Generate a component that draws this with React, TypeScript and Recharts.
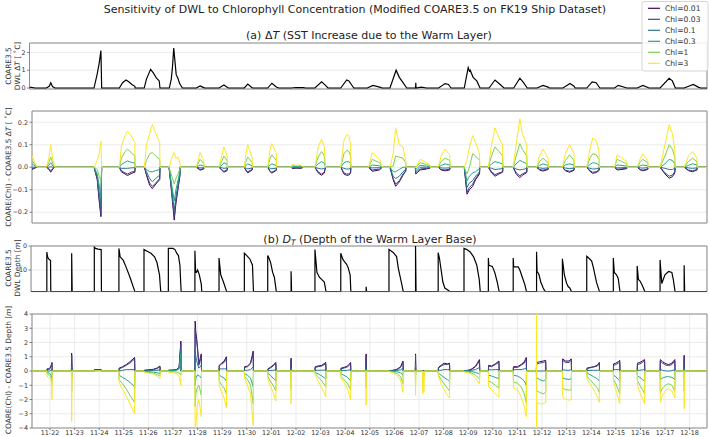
import React from 'react';
import { LineChart, Line, XAxis, YAxis, CartesianGrid, ReferenceArea } from 'recharts';

// ---------- labels ----------
const dateLabels = [
  '11-22', '11-23', '11-24', '11-25', '11-26', '11-27', '11-28', '11-29', '11-30',
  '12-01', '12-02', '12-03', '12-04', '12-05', '12-06', '12-07', '12-08', '12-09',
  '12-10', '12-11', '12-12', '12-13', '12-14', '12-15', '12-16', '12-17', '12-18',
];
const chlLabels = ['Chl=0.01', 'Chl=0.03', 'Chl=0.1', 'Chl=0.3', 'Chl=1', 'Chl=3'];
const chlColors = ['#440154', '#414487', '#2a788e', '#22a884', '#7ad151', '#fde725'];

// ---------- (a) COARE3.5 DWL dT  (time in days after 11-22 00:00) ----------
const tSST = [
  -0.83, -0.6,
  -0.15, -0.03, 0.03, 0.1, 0.2,
  1.79, 1.92, 2.0, 2.07, 2.1,
  2.82, 2.95, 3.09, 3.2, 3.33, 3.45, 3.46,
  3.83, 3.92, 4.09, 4.2, 4.33, 4.44, 4.47,
  4.85, 4.93, 4.98, 5.03, 5.08, 5.13, 5.2, 5.27, 5.38,
  5.95, 6.1, 6.25, 6.3,
  6.87, 7.07, 7.2, 7.25,
  7.9, 8.04, 8.2, 8.25,
  8.85, 9.02, 9.2, 9.3,
  9.8, 10.0, 10.3, 10.4,
  10.77, 11.04, 11.2, 11.3,
  11.82, 12.06, 12.15, 12.3, 12.35,
  12.9, 13.13, 13.4, 13.5,
  13.82, 14.07, 14.2, 14.35, 14.5,
  14.86, 14.87, 14.88, 15.1, 15.3,
  15.8, 16.06, 16.2, 16.3,
  16.84, 17.0, 17.05, 17.08, 17.2, 17.35, 17.48,
  17.85, 18.09, 18.3, 18.45,
  18.85, 19.1, 19.25, 19.4,
  19.8, 20.04, 20.25, 20.3,
  20.85, 21.14, 21.3, 21.35,
  21.82, 22.04, 22.2, 22.35,
  22.95, 23.1, 23.45,
  23.87, 24.1, 24.35,
  24.8, 25.17, 25.3, 25.42,
  25.78, 26.15, 26.35, 26.45,
  26.71,
];
const dtSST = [
  0.05, 0,
  0, 0.1, 0.3, 0.08, 0,
  0, 0.8, 1.4, 2.1, 0,
  0, 0.3, 0.45, 0.35, 0.2, 0.1, 0,
  0, 0.5, 1.05, 0.85, 0.55, 0.4, 0,
  0, 0.5, 1.2, 2.25, 1.5, 0.75, 0.55, 0.25, 0,
  0, 0.12, 0.02, 0,
  0, 0.17, 0.05, 0,
  0, 0.22, 0.03, 0,
  0, 0.27, 0.06, 0,
  0, 0.03, 0.02, 0,
  0, 0.35, 0.15, 0,
  0, 0.45, 0.4, 0.1, 0,
  0, 0.15, 0.05, 0,
  0, 1.0, 0.6, 0.3, 0,
  0, 0.3, 0, 0.05, 0,
  0, 0.25, 0.2, 0,
  0, 1.15, 0.95, 1.0, 0.6, 0.4, 0,
  0, 0.45, 0.2, 0,
  0, 0.55, 0.3, 0,
  0, 0.15, 0.05, 0,
  0, 0.25, 0.1, 0,
  0, 0.35, 0.3, 0,
  0, 0.15, 0,
  0, 0.15, 0,
  0, 0.55, 0.4, 0,
  0, 0.2, 0.05, 0,
  0,
];

// ---------- (a) COARE(Chl) - COARE3.5 dT ----------
const tDiffT = [
  -0.73, -0.6, -0.52,
  -0.15, -0.05, 0.03, 0.12, 0.2,
  1.79, 1.92, 2.0, 2.07, 2.1,
  2.82, 2.9, 3.05, 3.15, 3.3, 3.45, 3.46,
  3.84, 3.92, 4.05, 4.16, 4.3, 4.46, 4.47,
  4.84, 4.95, 5.05, 5.12, 5.2, 5.28, 5.29,
  5.95, 6.1, 6.25, 6.26,
  6.87, 7.0, 7.07, 7.2, 7.21,
  7.9, 7.98, 8.04, 8.22, 8.23,
  8.85, 8.95, 9.02, 9.2, 9.21,
  9.8, 9.85, 10.0, 10.2, 10.3,
  10.77, 10.9, 11.04, 11.15, 11.2,
  11.82, 11.95, 12.06, 12.15, 12.22, 12.23,
  12.95, 13.1, 13.4, 13.5,
  13.82, 13.95, 14.05, 14.2, 14.35, 14.46, 14.47,
  14.85, 14.87, 15.05, 15.3, 15.45, 15.46,
  15.78, 15.9, 16.06, 16.25, 16.26,
  16.84, 16.95, 17.05, 17.18, 17.3, 17.46, 17.47,
  17.82, 17.95, 18.09, 18.25, 18.4, 18.41,
  18.83, 18.95, 19.1, 19.2, 19.38, 19.39,
  19.78, 19.9, 20.04, 20.25, 20.26,
  20.83, 20.95, 21.12, 21.3, 21.31,
  21.82, 21.95, 22.06, 22.2, 22.32, 22.33,
  22.95, 23.05, 23.25, 23.45, 23.46,
  23.87, 24.0, 24.1, 24.3, 24.31,
  24.8, 25.0, 25.17, 25.3, 25.4, 25.41,
  25.78, 25.95, 26.12, 26.3, 26.31,
  26.71,
];
const dT001 = [
  -0.01, -0.003, 0,
  0, -0.008, -0.022, -0.007, 0,
  0, -0.055, -0.15, -0.22, 0,
  0, -0.02, -0.03, -0.037, -0.028, -0.022, 0,
  0, -0.035, -0.08, -0.095, -0.075, -0.055, 0,
  0, -0.12, -0.235, -0.16, -0.1, -0.04, 0,
  0, -0.013, -0.008, 0,
  0, -0.015, -0.022, -0.015, 0,
  0, -0.018, -0.025, -0.012, 0,
  0, -0.02, -0.026, -0.014, 0,
  0, -0.006, -0.004, -0.005, 0,
  0, -0.025, -0.036, -0.026, 0,
  0, -0.03, -0.036, -0.035, -0.026, 0,
  0, -0.018, -0.012, 0,
  0, -0.055, -0.085, -0.065, -0.035, -0.018, 0,
  0, -0.03, -0.012, -0.008, -0.004, 0,
  0, -0.012, -0.016, -0.012, 0,
  0, -0.12, -0.1, -0.085, -0.055, -0.03, 0,
  0, -0.025, -0.04, -0.03, -0.022, 0,
  0, -0.03, -0.046, -0.036, -0.024, 0,
  0, -0.012, -0.017, -0.01, 0,
  0, -0.016, -0.022, -0.014, 0,
  0, -0.018, -0.027, -0.024, -0.015, 0,
  0, -0.012, -0.01, -0.006, 0,
  0, -0.012, -0.016, -0.01, 0,
  0, -0.03, -0.049, -0.042, -0.025, 0,
  0, -0.015, -0.02, -0.012, 0,
  0,
];
const dT003 = [
  -0.007, -0.002, 0,
  0, -0.006, -0.015, -0.005, 0,
  0, -0.05, -0.14, -0.21, 0,
  0, -0.015, -0.025, -0.03, -0.022, -0.018, 0,
  0, -0.03, -0.07, -0.085, -0.07, -0.05, 0,
  0, -0.11, -0.22, -0.15, -0.09, -0.035, 0,
  0, -0.01, -0.006, 0,
  0, -0.012, -0.018, -0.012, 0,
  0, -0.015, -0.02, -0.01, 0,
  0, -0.018, -0.022, -0.012, 0,
  0, -0.004, -0.003, -0.004, 0,
  0, -0.02, -0.03, -0.022, 0,
  0, -0.025, -0.03, -0.03, -0.022, 0,
  0, -0.012, -0.008, 0,
  0, -0.05, -0.075, -0.06, -0.03, -0.015, 0,
  0, -0.03, -0.008, -0.005, -0.003, 0,
  0, -0.01, -0.012, -0.009, 0,
  0, -0.11, -0.09, -0.075, -0.05, -0.025, 0,
  0, -0.02, -0.033, -0.025, -0.02, 0,
  0, -0.025, -0.038, -0.03, -0.02, 0,
  0, -0.01, -0.013, -0.008, 0,
  0, -0.013, -0.018, -0.012, 0,
  0, -0.015, -0.022, -0.02, -0.012, 0,
  0, -0.009, -0.007, -0.004, 0,
  0, -0.01, -0.013, -0.008, 0,
  0, -0.025, -0.04, -0.035, -0.02, 0,
  0, -0.012, -0.016, -0.01, 0,
  0,
];
const dT01 = [
  0, 0, 0,
  0, 0, 0.002, 0, 0,
  0, -0.04, -0.11, -0.17, 0,
  0, -0.005, -0.005, -0.005, -0.003, -0.002, 0,
  0, -0.02, -0.05, -0.065, -0.05, -0.035, 0,
  0, -0.1, -0.19, -0.13, -0.08, -0.03, 0,
  0, -0.003, -0.002, 0,
  0, -0.003, -0.005, -0.003, 0,
  0, -0.005, -0.007, -0.004, 0,
  0, -0.005, -0.007, -0.004, 0,
  0, 0, 0, 0, 0,
  0, -0.005, -0.008, -0.005, 0,
  0, -0.005, -0.008, -0.008, -0.005, 0,
  0, -0.003, -0.002, 0,
  0, -0.04, -0.05, -0.04, -0.02, -0.01, 0,
  0, -0.02, 0, 0, 0, 0,
  0, -0.003, -0.004, -0.003, 0,
  0, -0.09, -0.07, -0.06, -0.04, -0.02, 0,
  0, -0.005, -0.01, -0.008, -0.006, 0,
  0, -0.008, -0.012, -0.01, -0.006, 0,
  0, -0.003, -0.005, -0.003, 0,
  0, -0.004, -0.006, -0.004, 0,
  0, -0.005, -0.008, -0.007, -0.004, 0,
  0, -0.003, -0.002, -0.001, 0,
  0, -0.003, -0.004, -0.002, 0,
  0, -0.005, -0.01, -0.01, -0.005, 0,
  0, -0.003, -0.005, -0.003, 0,
  0,
];
const dT03 = [
  0.015, 0.005, 0,
  0, 0.008, 0.02, 0.005, 0,
  0, -0.03, -0.08, -0.13, 0,
  0, 0.012, 0.022, 0.028, 0.022, 0.018, 0,
  0, -0.01, -0.02, -0.02, -0.015, -0.01, 0,
  0, -0.08, -0.15, -0.1, -0.06, -0.02, 0,
  0, 0.01, 0.005, 0,
  0, 0.01, 0.02, 0.012, 0,
  0, 0.01, 0.015, 0.006, 0,
  0, 0.01, 0.015, 0.008, 0,
  0, 0.004, 0.003, 0.003, 0,
  0, 0.015, 0.025, 0.018, 0,
  0, 0.02, 0.025, 0.024, 0.017, 0,
  0, 0.01, 0.006, 0,
  0, -0.02, -0.02, -0.01, 0, 0, 0,
  0, -0.01, 0.008, 0.005, 0.003, 0,
  0, 0.008, 0.015, 0.01, 0,
  0, -0.06, -0.04, -0.025, -0.02, -0.005, 0,
  0, 0.015, 0.025, 0.02, 0.015, 0,
  0, 0.015, 0.03, 0.025, 0.015, 0,
  0, 0.008, 0.015, 0.008, 0,
  0, 0.01, 0.015, 0.01, 0,
  0, 0.012, 0.02, 0.018, 0.01, 0,
  0, 0.01, 0.008, 0.005, 0,
  0, 0.007, 0.01, 0.006, 0,
  0, 0.015, 0.035, 0.03, 0.015, 0,
  0, 0.008, 0.015, 0.01, 0,
  0,
];
const dT1 = [
  0.03, 0.01, 0,
  0, 0.02, 0.045, 0.015, 0,
  0, -0.01, -0.04, -0.06, 0,
  0, 0.04, 0.07, 0.08, 0.065, 0.05, 0,
  0, 0.03, 0.06, 0.065, 0.05, 0.035, 0,
  0, -0.04, -0.075, -0.05, -0.03, -0.01, 0,
  0, 0.035, 0.015, 0,
  0, 0.03, 0.05, 0.03, 0,
  0, 0.03, 0.045, 0.02, 0,
  0, 0.04, 0.055, 0.03, 0,
  0, 0.008, 0.006, 0.007, 0,
  0, 0.045, 0.07, 0.05, 0,
  0, 0.06, 0.075, 0.07, 0.05, 0,
  0, 0.035, 0.02, 0,
  0, 0.005, 0.05, 0.045, 0.04, 0.02, 0,
  0, 0, 0.02, 0.012, 0.006, 0,
  0, 0.025, 0.04, 0.03, 0,
  0, -0.03, 0, 0.06, 0.05, 0.03, 0,
  0, 0.05, 0.09, 0.07, 0.05, 0,
  0, 0.05, 0.105, 0.08, 0.05, 0,
  0, 0.025, 0.04, 0.02, 0,
  0, 0.03, 0.055, 0.03, 0,
  0, 0.04, 0.06, 0.055, 0.035, 0,
  0, 0.035, 0.025, 0.015, 0,
  0, 0.025, 0.035, 0.02, 0,
  0, 0.05, 0.1, 0.08, 0.045, 0,
  0, 0.025, 0.04, 0.025, 0,
  0,
];
const dT3 = [
  0.05, 0.015, 0,
  0, 0.04, 0.1, 0.03, 0,
  0, 0.03, 0.06, 0.115, 0,
  0, 0.09, 0.14, 0.16, 0.14, 0.11, 0,
  0, 0.1, 0.15, 0.19, 0.15, 0.11, 0,
  0, 0.04, 0.065, 0.04, 0.045, 0.02, 0,
  0, 0.065, 0.03, 0,
  0, 0.06, 0.09, 0.05, 0,
  0, 0.07, 0.1, 0.04, 0,
  0, 0.08, 0.105, 0.06, 0,
  0, 0.012, 0.008, 0.01, 0,
  0, 0.09, 0.125, 0.09, 0,
  0, 0.12, 0.145, 0.14, 0.1, 0,
  0, 0.065, 0.035, 0,
  0, 0.06, 0.175, 0.1, 0.09, 0.03, 0,
  0, 0, 0.035, 0.02, 0.01, 0,
  0, 0.05, 0.08, 0.055, 0,
  0, 0.03, 0.09, 0.14, 0.11, 0.06, 0,
  0, 0.1, 0.175, 0.13, 0.1, 0,
  0, 0.1, 0.215, 0.15, 0.1, 0,
  0, 0.05, 0.08, 0.04, 0,
  0, 0.06, 0.1, 0.06, 0,
  0, 0.08, 0.13, 0.12, 0.07, 0,
  0, 0.055, 0.04, 0.025, 0,
  0, 0.04, 0.06, 0.03, 0,
  0, 0.1, 0.19, 0.15, 0.08, 0,
  0, 0.05, 0.07, 0.04, 0,
  0,
];

// ---------- (b) COARE3.5 DWL depth [m] ----------
const tDepth = [
  -0.83,
  -0.13, -0.13, -0.1, -0.05, 0.02, 0.03,
  0.88, 0.88, 0.9,
  1.8, 1.8, 1.85, 1.95, 2.08, 2.09,
  2.8, 2.8, 2.85, 2.98, 3.1, 3.25, 3.45,
  3.82, 3.82, 3.95, 4.1, 4.25, 4.35, 4.45, 4.5,
  4.81, 4.81, 5.0, 5.08, 5.15, 5.22, 5.28, 5.33,
  5.89, 5.89, 5.92, 5.95, 6.0, 6.07, 6.15, 6.17,
  6.87, 6.87, 6.94, 7.05, 7.18,
  7.9, 7.9, 8.0, 8.13, 8.23, 8.27,
  8.85, 8.85, 8.9, 8.97, 9.05, 9.12, 9.2,
  9.8, 9.8, 9.82,
  10.77, 10.77, 10.8, 10.85, 10.95, 11.05, 11.15, 11.22,
  11.82, 11.82, 11.9, 11.97, 12.05, 12.12, 12.2, 12.23,
  12.85, 12.85, 12.87,
  13.78, 13.78, 13.96, 14.09, 14.16, 14.29, 14.36,
  14.86, 14.86, 14.88,
  15.78, 15.78, 15.83, 15.9, 15.97, 16.05, 16.2, 16.25,
  16.83, 16.83, 16.95, 17.08, 17.22, 17.35, 17.45, 17.49,
  17.82, 17.82, 17.84, 17.98, 18.08, 18.18, 18.26,
  18.83, 18.83, 18.85, 19.03, 19.1, 19.2, 19.3, 19.37,
  19.78, 19.78, 19.8, 19.88, 19.95, 20.05, 20.1, 20.15,
  20.83, 20.83, 20.91, 21.0, 21.07, 21.13, 21.2,
  21.82, 21.82, 21.89, 22.02, 22.09, 22.22, 22.34,
  22.9, 22.9, 22.94, 23.03, 23.1, 23.17,
  23.87, 23.87, 23.92, 23.98, 24.08, 24.18,
  24.8, 24.8, 24.87, 25.0, 25.15, 25.28, 25.34, 25.41,
  25.78, 25.78, 25.8,
  26.71,
];
const depthDWL = [
  19,
  19, 2.5, 4.5, 5.5, 6, 19,
  19, 3, 19,
  19, 0.5, 1, 1.3, 1.5, 19,
  19, 1, 4.5, 6, 9, 13, 19,
  19, 1.5, 2.2, 3, 4.5, 7, 12, 19,
  19, 1, 1, 1.5, 3, 4, 8, 19,
  19, 2, 11, 11, 10, 12, 16, 19,
  19, 5, 12, 15, 19,
  19, 3, 4, 5.5, 8, 19,
  19, 4, 5, 7, 11, 13, 19,
  19, 10.5, 19,
  19, 1.5, 5, 11, 13, 14, 15, 19,
  19, 3, 5.5, 6.5, 7.5, 9, 12, 19,
  19, 17, 19,
  19, 1.4, 2.8, 4.4, 9.3, 15.5, 19,
  19, 0, 19,
  19, 2.8, 5, 10, 15, 17.5, 18.5, 19,
  19, 1, 1.5, 2.5, 4.5, 8, 14, 19,
  19, 5, 8, 8.5, 11, 15, 19,
  19, 5, 8.7, 8.7, 10, 13, 16, 19,
  19, 2.4, 10.5, 12, 15, 17.5, 18.5, 19,
  19, 5.3, 12, 15.5, 17, 17.5, 19,
  19, 4.3, 4.9, 6.3, 9, 15.3, 19,
  19, 5, 11, 12, 13.5, 19,
  19, 8.3, 13.9, 14.5, 16.5, 19,
  19, 5.8, 15.6, 12, 10.6, 11, 14, 19,
  19, 8, 19,
  19,
];

// ---------- (b) COARE(Chl) - COARE3.5 depth [m] ----------
const tDiffD = [
  -0.73,
  -0.13, -0.12, -0.02, 0.05, 0.08, 0.09,
  0.87, 0.88, 0.9,
  1.8, 1.81, 2.08, 2.09,
  2.8, 2.81, 2.95, 3.1, 3.25, 3.44, 3.45,
  3.82, 3.83, 4.0, 4.2, 4.35, 4.47, 4.48,
  4.81, 4.82, 5.0, 5.15, 5.25, 5.32, 5.33,
  5.89, 5.9, 5.93, 5.98, 6.05, 6.15, 6.16,
  6.87, 6.88, 6.98, 7.08, 7.17, 7.18,
  7.9, 7.91, 8.03, 8.15, 8.26, 8.27,
  8.85, 8.86, 8.95, 9.07, 9.18, 9.19,
  9.79, 9.8, 9.81,
  10.77, 10.78, 10.9, 11.05, 11.21, 11.22,
  11.82, 11.83, 11.95, 12.1, 12.22, 12.23,
  12.84, 12.85, 12.86,
  13.78, 13.79, 13.95, 14.1, 14.25, 14.35, 14.36,
  14.85, 14.86, 14.87,
  15.14, 15.15, 15.17, 15.2, 15.22,
  15.78, 15.79, 15.9, 16.02, 16.15, 16.24, 16.25,
  16.83, 16.84, 17.0, 17.15, 17.3, 17.46, 17.47,
  17.82, 17.83, 17.95, 18.1, 18.25, 18.26,
  18.83, 18.84, 19.0, 19.15, 19.28, 19.36, 19.37,
  19.77, 19.78, 19.785, 19.8, 19.9, 20.05, 20.15, 20.16,
  20.83, 20.84, 20.95, 21.1, 21.19, 21.2,
  21.82, 21.83, 21.95, 22.1, 22.25, 22.33, 22.34,
  22.9, 22.91, 23.0, 23.1, 23.16, 23.17,
  23.87, 23.88, 23.98, 24.08, 24.17, 24.18,
  24.8, 24.81, 24.9, 25.05, 25.15, 25.28, 25.4, 25.41,
  25.77, 25.78, 25.79,
  26.71,
];
const dD001 = [
  0,
  0, 0.15, 0.15, 0.4, 0.6, 0,
  0, 1.25, 0,
  0, 0.1, 0.1, 0,
  0, 0.2, 0.3, 0.45, 0.65, 0.95, 0,
  0, 0.05, 0.08, 0.12, 0.2, 0.35, 0,
  0, 0.05, 0.06, 0.1, 0.3, 2.1, 0,
  0, 3.5, 2.7, 2.0, 0.5, 1.2, 0,
  0, 0.4, 0.55, 0.7, 1.0, 0,
  0, 0.3, 0.35, 0.55, 1.4, 0,
  0, 0.15, 0.25, 0.4, 0.6, 0,
  0, 0.9, 0,
  0, 0.3, 0.35, 0.4, 0.6, 0,
  0, 0.2, 0.25, 0.35, 0.6, 0,
  0, 1.2, 0,
  0, 0.02, 0.05, 0.12, 0.3, 0.7, 0,
  0, 1.2, 0,
  0, 0.05, 0, 0.05, 0,
  0, 0.25, 0.4, 0.55, 0.5, 0.55, 0,
  0, 0.02, 0.05, 0.15, 0.35, 0.8, 0,
  0, 0.4, 0.35, 0.5, 0.7, 0,
  0, 0.3, 0.3, 0.45, 0.65, 0.95, 0,
  0, 0.6, 0.6, 0.6, 0.65, 0.7, 0.75, 0,
  0, 0.85, 0.7, 0.7, 0.85, 0,
  0, 0.2, 0.25, 0.3, 0.4, 0.6, 0,
  0, 0.5, 0.55, 0.65, 0.75, 0,
  0, 0.55, 0.6, 0.7, 0.8, 0,
  0, 0.8, 0.65, 0.5, 0.45, 0.55, 0.8, 0,
  0, 1.1, 0,
  0,
];
const dD003 = [
  0,
  0, 0.12, 0.12, 0.35, 0.55, 0,
  0, 1.1, 0,
  0, 0.08, 0.08, 0,
  0, 0.15, 0.25, 0.4, 0.55, 0.85, 0,
  0, 0.04, 0.07, 0.1, 0.17, 0.3, 0,
  0, 0.05, 0.06, 0.1, 0.28, 1.9, 0,
  0, 3.0, 2.4, 1.8, 0.4, 1.0, 0,
  0, 0.35, 0.5, 0.6, 0.9, 0,
  0, 0.25, 0.3, 0.5, 1.2, 0,
  0, 0.12, 0.2, 0.35, 0.55, 0,
  0, 0.8, 0,
  0, 0.25, 0.3, 0.35, 0.5, 0,
  0, 0.15, 0.2, 0.3, 0.5, 0,
  0, 1.0, 0,
  0, 0.02, 0.04, 0.1, 0.25, 0.6, 0,
  0, 1.1, 0,
  0, 0.04, 0, 0.04, 0,
  0, 0.2, 0.35, 0.45, 0.45, 0.5, 0,
  0, 0.02, 0.04, 0.12, 0.3, 0.7, 0,
  0, 0.35, 0.3, 0.45, 0.6, 0,
  0, 0.25, 0.25, 0.4, 0.55, 0.85, 0,
  0, 0.5, 0.5, 0.5, 0.55, 0.6, 0.65, 0,
  0, 0.75, 0.6, 0.6, 0.75, 0,
  0, 0.18, 0.22, 0.28, 0.35, 0.5, 0,
  0, 0.4, 0.45, 0.55, 0.65, 0,
  0, 0.45, 0.5, 0.6, 0.7, 0,
  0, 0.7, 0.55, 0.4, 0.38, 0.45, 0.7, 0,
  0, 1.0, 0,
  0,
];
const dD01 = [
  0,
  0, 0, 0, 0.05, 0.1, 0,
  0, 0.3, 0,
  0, 0.05, 0.05, 0,
  0, 0, 0.05, 0.1, 0.1, 0.1, 0,
  0, 0.02, 0.03, 0.04, 0.05, 0.08, 0,
  0, 0.04, 0.05, 0.08, 0.2, 1.5, 0,
  0, 1.5, 1.0, 0.6, 0.2, 0.4, 0,
  0, 0.15, 0.15, 0.15, 0.15, 0,
  0, 0.05, 0.05, 0.1, 0.3, 0,
  0, 0.02, 0.03, 0.05, 0.08, 0,
  0, 0.2, 0,
  0, 0.05, 0.05, 0.05, 0.08, 0,
  0, 0.02, 0.03, 0.05, 0.1, 0,
  0, 0.2, 0,
  0, 0.01, 0.02, 0.04, 0.08, 0.2, 0,
  0, 0.5, 0,
  0, 0, 0, 0, 0,
  0, 0.05, 0.05, 0.1, 0.1, 0.1, 0,
  0, 0.01, 0.02, 0.05, 0.1, 0.25, 0,
  0, 0.1, 0.08, 0.1, 0.1, 0,
  0, 0.1, 0.1, 0.1, 0.15, 0.2, 0,
  0, 0, 0, 0, 0, 0, 0, 0,
  0, 0.1, 0.05, 0.05, 0.1, 0,
  0, 0.03, 0.04, 0.05, 0.05, 0.06, 0,
  0, 0.1, 0.1, 0.1, 0.12, 0,
  0, 0.05, 0.05, 0.08, 0.1, 0,
  0, 0.1, 0.05, 0, 0, 0.02, 0.1, 0,
  0, 0.2, 0,
  0,
];
const dD03 = [
  0,
  0, -0.1, -0.15, -0.3, -0.5, 0,
  0, -0.5, 0,
  0, 0.03, 0.03, 0,
  0, -0.3, -0.45, -0.6, -0.8, -1.1, 0,
  0, -0.02, -0.04, -0.08, -0.12, -0.18, 0,
  0, 0.02, 0.03, 0.05, 0.15, 1.2, 0,
  0, -1.0, -0.5, -0.3, -0.3, -0.5, 0,
  0, -0.3, -0.4, -0.5, -0.7, 0,
  0, -0.2, -0.3, -0.5, -1.1, 0,
  0, -0.15, -0.3, -0.5, -0.7, 0,
  0, -0.5, 0,
  0, -0.1, -0.2, -0.35, -0.55, 0,
  0, -0.2, -0.3, -0.45, -0.7, 0,
  0, -0.4, 0,
  0, -0.01, -0.03, -0.06, -0.12, -0.3, 0,
  0, -0.3, 0,
  0, -0.1, 0, -0.1, 0,
  0, -0.15, -0.3, -0.45, -0.6, -0.7, 0,
  0, -0.01, -0.02, -0.05, -0.1, -0.2, 0,
  0, -0.3, -0.35, -0.45, -0.55, 0,
  0, -0.3, -0.35, -0.5, -0.7, -1.0, 0,
  0, -0.5, -0.5, -0.5, -0.6, -0.7, -0.6, 0,
  0, -0.5, -0.55, -0.6, -0.55, 0,
  0, -0.15, -0.25, -0.4, -0.55, -0.7, 0,
  0, -0.3, -0.4, -0.6, -0.7, 0,
  0, -0.35, -0.45, -0.6, -0.7, 0,
  0, -0.6, -0.5, -0.4, -0.4, -0.45, -0.6, 0,
  0, -0.5, 0,
  0,
];
const dD1 = [
  0,
  0, -0.2, -0.3, -0.5, -1.0, 0,
  0, -1.5, 0,
  0, 0.01, 0.01, 0,
  0, -0.6, -0.9, -1.25, -1.7, -2.2, 0,
  0, -0.06, -0.1, -0.15, -0.25, -0.35, 0,
  0, -0.02, -0.04, -0.08, -0.15, -0.3, 0,
  0, -2.5, -1.6, -1.2, -1.0, -1.7, 0,
  0, -0.7, -1.0, -1.2, -1.6, 0,
  0, -0.4, -0.6, -1.0, -2.3, 0,
  0, -0.4, -0.7, -1.0, -1.4, 0,
  0, -1.3, 0,
  0, -0.2, -0.4, -0.7, -1.1, 0,
  0, -0.4, -0.6, -0.9, -1.3, 0,
  0, -1.2, 0,
  0, -0.03, -0.08, -0.18, -0.4, -0.9, 0,
  0, -1.0, 0,
  0, -0.4, 0, -0.4, 0,
  0, -0.3, -0.6, -0.9, -1.2, -1.4, 0,
  0, -0.04, -0.07, -0.15, -0.3, -0.55, 0,
  0, -0.7, -0.8, -1.0, -1.2, 0,
  0, -0.8, -0.85, -1.1, -1.6, -2.2, 0,
  0, -1.4, -1.4, -1.4, -1.5, -1.6, -1.5, 0,
  0, -1.2, -1.3, -1.35, -1.3, 0,
  0, -0.4, -0.6, -0.9, -1.2, -1.5, 0,
  0, -0.6, -0.9, -1.3, -1.6, 0,
  0, -0.7, -1.0, -1.3, -1.6, 0,
  0, -1.5, -1.2, -0.95, -0.9, -1.0, -1.4, 0,
  0, -1.4, 0,
  0,
];
const dD3 = [
  0,
  0, -0.35, -0.55, -0.65, -2.0, 0,
  0, -3.55, 0,
  0, 0, 0, 0,
  0, -0.8, -1.3, -1.75, -2.3, -3.0, 0,
  0, -0.1, -0.15, -0.22, -0.35, -0.55, 0,
  0, -0.1, -0.12, -0.2, -0.4, -1.0, 0,
  0, -4.0, -3.8, -2.5, -2.0, -3.2, 0,
  0, -1.0, -1.5, -1.9, -2.6, 0,
  0, -0.5, -1.0, -1.6, -3.8, 0,
  0, -0.6, -1.0, -1.5, -2.1, 0,
  0, -2.3, 0,
  0, -0.3, -0.7, -1.2, -1.8, 0,
  0, -0.5, -0.8, -1.3, -2.0, 0,
  0, -2.4, 0,
  0, -0.05, -0.12, -0.3, -0.65, -1.5, 0,
  0, -1.7, 0,
  0, -1.6, 0, -1.5, 0,
  0, -0.4, -0.9, -1.3, -1.7, -1.9, 0,
  0, -0.08, -0.12, -0.25, -0.5, -0.9, 0,
  0, -1.1, -1.3, -1.6, -1.85, 0,
  0, -1.2, -1.3, -1.8, -2.5, -3.2, 0,
  0, 4, -4, -2.2, -2.3, -2.3, -2.2, 0,
  0, -1.8, -1.95, -2.05, -2.0, 0,
  0, -0.6, -0.9, -1.3, -1.8, -2.2, 0,
  0, -0.8, -1.3, -1.9, -2.3, 0,
  0, -1.0, -1.5, -1.9, -2.3, 0,
  0, -2.2, -1.7, -1.3, -1.25, -1.4, -1.9, 0,
  0, -2.65, 0,
  0,
];

// ---------- build chart tables ----------
const keys = ['c001', 'c003', 'c01', 'c03', 'c1', 'c3'];
const dataA1 = tSST.map((t, i) => ({ t, v: dtSST[i] }));
const diffTSeries = [dT001, dT003, dT01, dT03, dT1, dT3];
const dataA2 = tDiffT.map((t, i) => {
  const row: any = { t };
  keys.forEach((k, j) => (row[k] = diffTSeries[j][i]));
  return row;
});
const dataB1 = tDepth.map((t, i) => ({ t, v: depthDWL[i] }));
const diffDSeries = [dD001, dD003, dD01, dD03, dD1, dD3];
const dataB2 = tDiffD.map((t, i) => {
  const row: any = { t };
  keys.forEach((k, j) => (row[k] = diffDSeries[j][i]));
  return row;
});

// ---------- layout helpers ----------
const FONT = 'DejaVu Sans, Liberation Sans, sans-serif';
const TICK0_PX = 50;
const PX_PER_DAY = 24.6;
const dayTicks = dateLabels.map((_, i) => i);
const minus = (v: number, d: number) => (v < 0 ? '\u2212' : '') + Math.abs(v).toFixed(d);

type PanelProps = {
  x0: number; x1: number; y0: number; y1: number;
  data: any[];
  lines: { key: string; color: string; width: number }[];
  yDomain: [number, number];
  yTicks: number[];
  yFmt: (v: number) => string;
  showX: boolean;
  reversed?: boolean;
};

function Panel({ x0, x1, y0, y1, data, lines, yDomain, yTicks, yFmt, showX, reversed }: PanelProps) {
  const padTop = 4;
  const padBottom = showX ? 9 : 5;
  const X0 = (x0 - TICK0_PX) / PX_PER_DAY;
  const X1 = (x1 - TICK0_PX) / PX_PER_DAY;
  const tickStyle = { fontSize: 6.4, fill: '#333', fontFamily: FONT };
  return (
    <div style={{ position: 'absolute', left: 0, top: y0 - padTop }}>
      <LineChart
        width={709}
        height={y1 - y0 + padTop + padBottom}
        data={data}
        margin={{ top: padTop, right: 709 - x1, bottom: 0, left: 0 }}
        style={{ overflow: 'visible' }}
      >
        <CartesianGrid stroke="#e6e6e6" strokeWidth={0.8} />
        <XAxis
          dataKey="t"
          type="number"
          domain={[X0, X1]}
          ticks={dayTicks}
          interval={0}
          allowDataOverflow
          height={padBottom}
          axisLine={false}
          tickSize={2.2}
          tickMargin={0}
          tickLine={{ stroke: '#555', strokeWidth: 0.7 }}
          tick={showX ? tickStyle : false}
          tickFormatter={(v: number) => (showX ? dateLabels[v] : '')}
        />
        <YAxis
          type="number"
          domain={yDomain}
          ticks={yTicks}
          interval={0}
          allowDataOverflow
          reversed={reversed}
          width={x0}
          axisLine={false}
          tickSize={2.5}
          tickMargin={1.5}
          tickLine={{ stroke: '#555', strokeWidth: 0.7 }}
          tick={tickStyle}
          tickFormatter={yFmt}
        />
        {lines.map((l) => (
          <Line
            key={l.key}
            dataKey={l.key}
            type="linear"
            stroke={l.color}
            strokeWidth={l.width}
            dot={false}
            activeDot={false}
            isAnimationActive={false}
          />
        ))}
        <ReferenceArea
          x1={X0}
          x2={X1}
          y1={yDomain[0]}
          y2={yDomain[1]}
          fill="none"
          fillOpacity={0}
          stroke="#8c8c8c"
          strokeWidth={1}
          ifOverflow="visible"
        />
      </LineChart>
    </div>
  );
}

const chlLines = keys.map((k, i) => ({ key: k, color: chlColors[i], width: 1 }));

export default function App() {
  const labelStyle = { fontFamily: FONT, fontSize: 7.4, fill: '#333' } as const;
  return (
    <div style={{ position: 'absolute', left: 0, top: 0, width: 709, height: 437, background: '#fff', overflow: 'hidden' }}>
      <Panel
        x0={29.5} x1={707} y0={43.3} y1={89.3}
        data={dataA1}
        lines={[{ key: 'v', color: '#000', width: 1.2 }]}
        yDomain={[-0.055, 2.53]}
        yTicks={[0, 1, 2]}
        yFmt={(v) => String(v)}
        showX={false}
      />
      <Panel
        x0={32} x1={707} y0={111} y1={223}
        data={dataA2}
        lines={chlLines}
        yDomain={[-0.248, 0.25]}
        yTicks={[-0.2, -0.1, 0, 0.1, 0.2]}
        yFmt={(v) => minus(v, 1)}
        showX={false}
      />
      <Panel
        x0={31} x1={707} y0={246} y1={291.6}
        data={dataB1}
        lines={[{ key: 'v', color: '#000', width: 1.2 }]}
        yDomain={[0, 19]}
        yTicks={[0, 10]}
        yFmt={(v) => String(v)}
        showX={false}
        reversed
      />
      <Panel
        x0={32} x1={707} y0={313.5} y1={427.5}
        data={dataB2}
        lines={chlLines}
        yDomain={[-4, 4]}
        yTicks={[-4, -3, -2, -1, 0, 1, 2, 3, 4]}
        yFmt={(v) => minus(v, 0)}
        showX
      />

      <svg width={709} height={437} style={{ position: 'absolute', left: 0, top: 0, pointerEvents: 'none' }}>
        <text x={355} y={13} textAnchor="middle" style={{ fontFamily: FONT, fontSize: 11, fill: '#222' }}>
          Sensitivity of DWL to Chlorophyll Concentration (Modified COARE3.5 on FK19 Ship Dataset)
        </text>
        <text x={369} y={39} textAnchor="middle" style={{ fontFamily: FONT, fontSize: 11, fill: '#222' }}>
          <tspan>(a) Δ</tspan>
          <tspan fontStyle="italic">T</tspan>
          <tspan> (SST Increase due to the Warm Layer)</tspan>
        </text>
        <text x={370} y={243} textAnchor="middle" style={{ fontFamily: FONT, fontSize: 11, fill: '#222' }}>
          <tspan>(b) </tspan>
          <tspan fontStyle="italic">D</tspan>
          <tspan fontStyle="italic" fontSize={7.5} dy={2}>T</tspan>
          <tspan dy={-2}> (Depth of the Warm Layer Base)</tspan>
        </text>

        <g transform="translate(8,66) rotate(-90)">
          <text x={0} y={0} textAnchor="middle" dominantBaseline="central" style={labelStyle}>COARE3.5</text>
        </g>
        <g transform="translate(17,66) rotate(-90)">
          <text x={0} y={0} textAnchor="middle" dominantBaseline="central" style={labelStyle}>
            <tspan>DWL Δ</tspan>
            <tspan fontStyle="italic">T</tspan>
            <tspan> [ ˚C]</tspan>
          </text>
        </g>
        <g transform="translate(8,167) rotate(-90)">
          <text x={0} y={0} textAnchor="middle" dominantBaseline="central" style={labelStyle}>
            <tspan>COARE(Chl) - COARE3.5 Δ</tspan>
            <tspan fontStyle="italic">T</tspan>
            <tspan> [ ˚C]</tspan>
          </text>
        </g>
        <g transform="translate(8,268) rotate(-90)">
          <text x={0} y={0} textAnchor="middle" dominantBaseline="central" style={labelStyle}>COARE3.5</text>
        </g>
        <g transform="translate(17,268) rotate(-90)">
          <text x={0} y={0} textAnchor="middle" dominantBaseline="central" style={labelStyle}>
            <tspan>DWL Depth [</tspan>
            <tspan fontStyle="italic">m</tspan>
            <tspan>]</tspan>
          </text>
        </g>
        <g transform="translate(8,370) rotate(-90)">
          <text x={0} y={0} textAnchor="middle" dominantBaseline="central" style={labelStyle}>
            <tspan>COARE(Chl) - COARE3.5 Depth [</tspan>
            <tspan fontStyle="italic">m</tspan>
            <tspan>]</tspan>
          </text>
        </g>

        <rect x={642} y={1.5} width={66} height={69.5} rx={2} fill="#fff" fillOpacity={0.85} stroke="#cccccc" strokeWidth={0.8} />
        {chlLabels.map((lab, i) => (
          <g key={lab}>
            <line x1={648} x2={660} y1={8.3 + i * 11} y2={8.3 + i * 11} stroke={chlColors[i]} strokeWidth={1.2} />
            <text x={665} y={8.3 + i * 11} dominantBaseline="central" style={{ fontFamily: FONT, fontSize: 7.6, fill: '#333' }}>
              {lab}
            </text>
          </g>
        ))}
      </svg>
    </div>
  );
}
